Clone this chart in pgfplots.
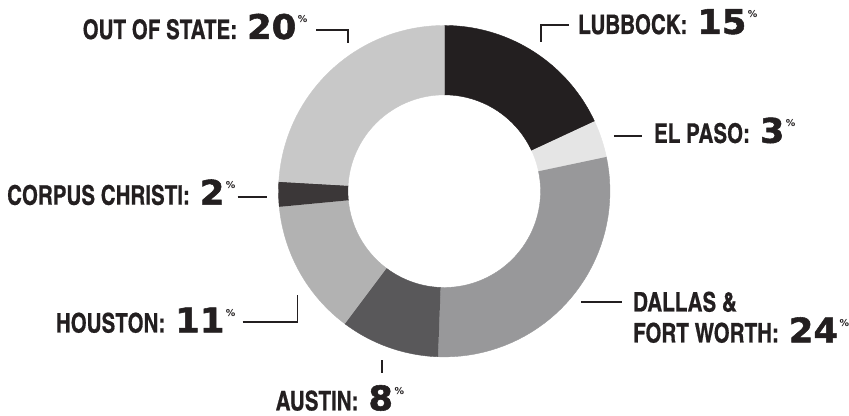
\documentclass[border=0pt]{standalone}
\usepackage{pgfplots}
\pgfplotsset{compat=1.18}
\usepackage{fontspec}
\newfontfamily\labelfont{texgyreheroscn-bold.otf}[FakeStretch=0.93, FakeBold=0.6]
\newfontfamily\numfont{DejaVu Sans Bold}[FakeBold=1.6, FakeStretch=1.04]
\newfontfamily\pctfont{DejaVu Sans Bold}
\definecolor{ink}{HTML}{231F20}
\definecolor{cLub}{HTML}{231F20}
\definecolor{cElp}{HTML}{E5E5E5}
\definecolor{cDal}{HTML}{98989A}
\definecolor{cAus}{HTML}{59585A}
\definecolor{cHou}{HTML}{B2B2B2}
\definecolor{cCor}{HTML}{3B3738}
\definecolor{cOos}{HTML}{C8C8C8}
% shares (percent)
\def\vLub{15}\def\vElp{3}\def\vDal{24}\def\vAus{8}\def\vHou{11}\def\vCor{2}\def\vOos{20}
\pgfmathsetmacro\total{\vLub+\vElp+\vDal+\vAus+\vHou+\vCor+\vOos}
\def\cum{0}
\newcommand{\slice}[2]{%
  \pgfmathsetmacro\ta{90-360*(\cum/\total)}%
  \pgfmathsetmacro\newcum{\cum+#1}%
  \pgfmathsetmacro\tb{90-360*(\newcum/\total)}%
  \xdef\cum{\newcum}%
  \edef\doslice{\noexpand\addplot[fill=#2, draw=#2, line width=0.4pt, variable=\noexpand\t,
    samples at={0,1,...,40,100,101,...,140}]
    ({445+(166-69.5*(\noexpand\t>50))*cos(\ta+(\tb-\ta)*((\noexpand\t+(\noexpand\t>50)*(140-2*\noexpand\t))/40))},
     {191.5-(166-69.5*(\noexpand\t>50))*sin(\ta+(\tb-\ta)*((\noexpand\t+(\noexpand\t>50)*(140-2*\noexpand\t))/40))});}%
  \doslice
}
\newcommand{\lab}[1]{{\labelfont\fontsize{27}{30}\selectfont #1}}
\newcommand{\num}[1]{{\numfont\fontsize{34}{34}\selectfont #1}\hspace{1.5pt}\raisebox{16pt}{\pctfont\fontsize{9.5}{9.5}\selectfont\%}}
\begin{document}
\begin{tikzpicture}
\path (0,0) rectangle (849pt,416pt);
\begin{axis}[
  scale only axis, width=849pt, height=416pt,
  xmin=0, xmax=849, ymin=0, ymax=416, y dir=reverse,
  hide axis, clip=false]
\slice{\vLub}{cLub}
\slice{\vElp}{cElp}
\slice{\vDal}{cDal}
\slice{\vAus}{cAus}
\slice{\vHou}{cHou}
\slice{\vCor}{cCor}
\slice{\vOos}{cOos}
% leader lines
\draw[ink, line width=2pt] (axis cs:317,30) -- (axis cs:349,30) -- (axis cs:349,43);
\draw[ink, line width=2pt] (axis cs:541.7,42) -- (axis cs:541.7,25) -- (axis cs:570,25);
\draw[ink, line width=2pt] (axis cs:615,136) -- (axis cs:643,136);
\draw[ink, line width=2pt] (axis cs:238,197) -- (axis cs:267,197);
\draw[ink, line width=2pt] (axis cs:243,323) -- (axis cs:298,323) -- (axis cs:298,295);
\draw[ink, line width=2pt] (axis cs:582,303) -- (axis cs:623,303);
\draw[ink, line width=2pt] (axis cs:382.7,360.7) -- (axis cs:382.7,374);
% labels
\begin{scope}[every node/.style={inner sep=0, text=ink, text depth=0pt}]
\node[anchor=base east] at (axis cs:308,39) {\lab{OUT OF STATE:}\hspace{10pt}\num{20}};
\node[anchor=base west] at (axis cs:579,34) {\lab{LUBBOCK:}\hspace{10pt}\num{15}};
\node[anchor=base west] at (axis cs:655,143) {\lab{EL PASO:}\hspace{10pt}\num{3}};
\node[anchor=base east] at (axis cs:236,205) {\lab{CORPUS CHRISTI:}\hspace{10pt}\num{2}};
\node[anchor=base east] at (axis cs:236,333) {\lab{HOUSTON:}\hspace{10pt}\num{11}};
\node[anchor=base west] at (axis cs:634,312) {\lab{DALLAS \&}};
\node[anchor=base west] at (axis cs:634,343) {\lab{FORT WORTH:}\hspace{10pt}\num{24}};
\node[anchor=base west] at (axis cs:276,411) {\lab{AUSTIN:}\hspace{10pt}\num{8}};
\end{scope}
\end{axis}
\end{tikzpicture}
\end{document}
